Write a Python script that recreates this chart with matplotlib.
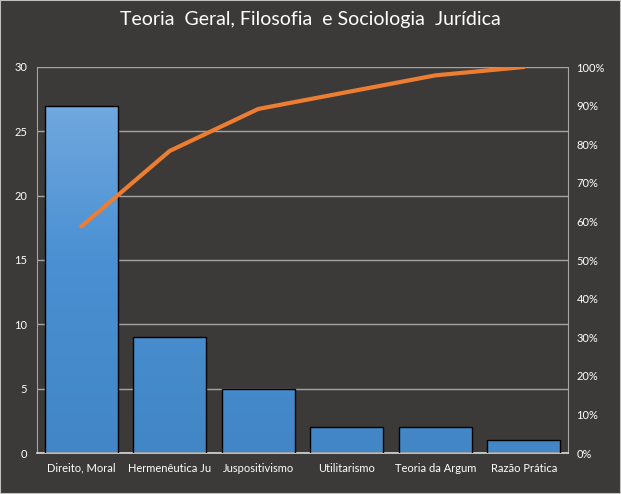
import numpy as np
import matplotlib.pyplot as plt
from matplotlib.patches import Rectangle
from matplotlib.colors import LinearSegmentedColormap

plt.rcParams['font.family'] = ['Lato', 'DejaVu Sans']

categorias = ['Direito, Moral', 'Hermenêutica Ju', 'Juspositivismo',
              'Utilitarismo', 'Teoria da Argum', 'Razão Prática']
valores = [27, 9, 5, 2, 2, 1]
titulo = 'Teoria  Geral, Filosofia  e Sociologia  Jurídica'

acumulado = np.cumsum(valores) / np.sum(valores) * 100

fundo = '#3b3a38'
fig = plt.figure(figsize=(6.21, 4.94), dpi=100, facecolor=fundo)
ax = fig.add_axes([37 / 621, 41 / 494, 531 / 621, 386 / 494])
ax.set_facecolor(fundo)

x = np.arange(len(categorias))
barras = ax.bar(x, valores, width=0.82, color='none', edgecolor='black', linewidth=1, zorder=3)

# degradê azul dentro das barras
grad = np.linspace(0, 1, 256).reshape(-1, 1)
cmap = LinearSegmentedColormap.from_list('azul', ['#4286c6', '#4a90d2', '#7aaee2'])
for b in barras:
    im = ax.imshow(grad, cmap=cmap, aspect='auto', origin='lower',
                   extent=[-0.5, len(categorias) - 0.5, 0, 30], zorder=2)
    im.set_clip_path(b)

ax.set_xlim(-0.5, len(categorias) - 0.5)
ax.set_ylim(0, 30)
ax.set_yticks(range(0, 31, 5))
ax.grid(axis='y', color='#a5a5a5', linewidth=1, zorder=0)
ax.set_xticks(x)
ax.set_xticklabels(categorias)
ax.tick_params(colors='white', labelsize=8, length=0, pad=7)
ax.spines['top'].set_visible(False)
ax.spines['left'].set_color('#a5a5a5')
ax.spines['right'].set_color('#a5a5a5')
ax.spines['bottom'].set_color('#d9d9d9')
ax.spines['bottom'].set_linewidth(1.2)

ax2 = ax.twinx()
ax2.plot(x, acumulado, color='#ed7d31', linewidth=3, solid_capstyle='round', zorder=5)
ax2.set_ylim(0, 100)
ax2.set_yticks(range(0, 101, 10))
ax2.set_yticklabels([f'{v}%' for v in range(0, 101, 10)])
ax2.tick_params(colors='white', labelsize=8, length=0, pad=6)
for s in ax2.spines.values():
    s.set_visible(False)

fig.text(0.5, 1 - 19 / 494, titulo, color='white', fontsize=14, ha='center', va='center')

borda = Rectangle((0, 0), 1, 1, transform=fig.transFigure, fill=False,
                  edgecolor='#bfbfbf', linewidth=1.5)
fig.patches.append(borda)

fig.savefig('out.png', dpi=100, facecolor=fundo)
